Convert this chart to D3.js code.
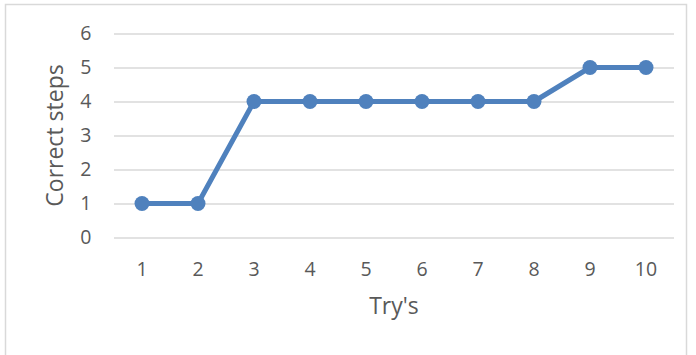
<!DOCTYPE html>
<html>
<head>
<meta charset="utf-8">
<script src="https://cdn.jsdelivr.net/npm/d3@7"></script>
<style>
  html, body { margin: 0; padding: 0; background: #fff; }
  svg { display: block; }
  text { font-family: "Open Sans", "Noto Sans", sans-serif; fill: #595959; }
</style>
</head>
<body>
<svg id="chart" width="696" height="355"></svg>
<script>
// Attempts and the number of correct steps reached on each
const tries = ["1", "2", "3", "4", "5", "6", "7", "8", "9", "10"];
const correctSteps = [1, 1, 4, 4, 4, 4, 4, 4, 5, 5];
const yTicks = [0, 1, 2, 3, 4, 5, 6];
const xTitle = "Try's";
const yTitle = "Correct steps";

const svg = d3.select("#chart");
const plot = { left: 114, right: 674, top: 33.5, bottom: 237.5 };
const tickFont = 19.5;
const titleFont = 23;

// Chart area frame
svg.append("rect")
  .attr("x", 5.5).attr("y", 4.5)
  .attr("width", 681).attr("height", 360)
  .attr("fill", "#fff")
  .attr("stroke", "#d9d9d9").attr("stroke-width", 1.5);

const x = d3.scaleBand().domain(tries).range([plot.left, plot.right]);
const y = d3.scaleLinear().domain([0, 6]).range([plot.bottom, plot.top]);

// Horizontal gridlines with value labels
const yAxis = d3.axisLeft(y).tickValues(yTicks).tickSize(-(plot.right - plot.left)).tickPadding(22.5)
  .tickFormat(d3.format("d"));
const gy = svg.append("g").attr("transform", `translate(${plot.left},0)`).call(yAxis);
gy.select(".domain").remove();
gy.selectAll(".tick line").attr("stroke", "#d9d9d9").attr("stroke-width", 1.5);
gy.selectAll(".tick text").attr("font-size", tickFont).attr("fill", "#595959")
  .attr("font-family", "'Open Sans', sans-serif");

// Category labels
const xAxis = d3.axisBottom(x).tickSize(0).tickPadding(25);
const gx = svg.append("g").attr("transform", `translate(0,${plot.bottom})`).call(xAxis);
gx.select(".domain").remove();
gx.selectAll(".tick text").attr("font-size", tickFont).attr("fill", "#595959")
  .attr("font-family", "'Open Sans', sans-serif");

// Series line and markers
const cx = (d, i) => x(tries[i]) + x.bandwidth() / 2;
svg.append("path")
  .datum(correctSteps)
  .attr("fill", "none")
  .attr("stroke", "#4f81bd")
  .attr("stroke-width", 5)
  .attr("stroke-linejoin", "round")
  .attr("d", d3.line().x(cx).y(d => y(d)));

svg.selectAll("circle.pt")
  .data(correctSteps)
  .join("circle")
  .attr("class", "pt")
  .attr("cx", cx)
  .attr("cy", d => y(d))
  .attr("r", 7.5)
  .attr("fill", "#4f81bd");

// Axis titles
svg.append("text")
  .attr("x", (plot.left + plot.right) / 2).attr("y", 314)
  .attr("text-anchor", "middle").attr("font-size", titleFont)
  .text(xTitle);

svg.append("text")
  .attr("transform", `translate(63,${(plot.top + plot.bottom) / 2}) rotate(-90)`)
  .attr("text-anchor", "middle").attr("font-size", titleFont)
  .text(yTitle);
</script>
</body>
</html>
